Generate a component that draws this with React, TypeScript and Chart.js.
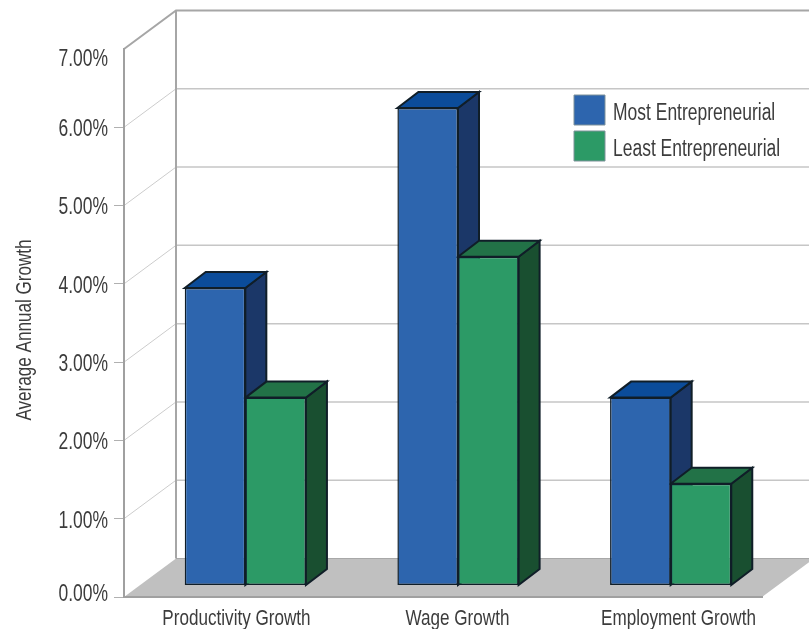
import React, { useEffect, useRef } from "react";
import { Chart, registerables } from "chart.js";

Chart.register(...registerables);

const categories = ["Productivity Growth", "Wage Growth", "Employment Growth"];
const mostEntrepreneurial = [3.8, 6.1, 2.4];
const leastEntrepreneurial = [2.4, 4.2, 1.3];
const seriesNames = ["Most Entrepreneurial", "Least Entrepreneurial"];
const axisTitle = "Average Annual Growth";
const yMax = 7;

const FONT = "'Liberation Sans', sans-serif";
const TEXT = "#3c3c3c";
const TEXT_NARROW = 0.76; // no condensed face is installed, so text is narrowed when painted
const faces = [
  { front: "#2d65ae", top: "#0b4c9a", side: "#1b3768" },
  { front: "#2c9a66", top: "#227247", side: "#194f30" },
];
const EDGE = "#101e28";

// 3D projection
const WALL_DX = 52;
const WALL_DY = -38.5;
const BAR_SHIFT_X = 15;
const BAR_SHIFT_Y = -11.5;
const BAR_DX = 21;
const BAR_DY = -16;

const textNudge = (text: string) => {
  if (seriesNames.includes(text)) return [-3.5, 3.5];
  if (text === axisTitle) return [-7, 1];
  if (text.endsWith("%")) return [0, 2.5];
  return [0, 0];
};

const narrowText = (ctx: any) => {
  const original = ctx.fillText.bind(ctx);
  ctx.fillText = (text: string, x: number, y: number, maxWidth?: number) => {
    const [nx, ny] = textNudge(text);
    ctx.save();
    ctx.translate(x + nx, y + ny);
    ctx.scale(TEXT_NARROW, 1);
    if (maxWidth === undefined) original(text, 0, 0);
    else original(text, 0, 0, maxWidth / TEXT_NARROW);
    ctx.restore();
  };
};

const poly = (ctx: CanvasRenderingContext2D, pts: number[][], fill: string | null, stroke: string | null, lw = 1) => {
  ctx.beginPath();
  pts.forEach((p, i) => (i ? ctx.lineTo(p[0], p[1]) : ctx.moveTo(p[0], p[1])));
  if (fill) {
    ctx.closePath();
    ctx.fillStyle = fill;
    ctx.fill();
  }
  if (stroke) {
    ctx.strokeStyle = stroke;
    ctx.lineWidth = lw;
    ctx.stroke();
  }
};

const box3d = {
  id: "box3d",
  beforeDraw(chart: any) {
    const { ctx, chartArea: a, scales } = chart;
    const y = scales.y;
    const legend = chart.legend;
    legend.left = 568;
    legend.right = 809;
    legend.top = 89;
    legend.bottom = 300;
    ctx.save();
    const y0 = y.getPixelForValue(0);
    const yTop = y.getPixelForValue(yMax);
    poly(ctx, [[a.left, y0], [a.right, y0], [a.right + WALL_DX, y0 + WALL_DY], [a.left + WALL_DX, y0 + WALL_DY]], "#c0c0c0", null);
    for (let v = 1; v < yMax; v++) {
      const p = y.getPixelForValue(v);
      poly(ctx, [[a.left, p], [a.left + WALL_DX, p + WALL_DY]], null, "#cccccc", 1);
      poly(ctx, [[a.left + WALL_DX, p + WALL_DY], [a.right + WALL_DX, p + WALL_DY]], null, "#c6c6c6", 1.5);
    }
    poly(ctx, [[a.left + WALL_DX, y0 + WALL_DY], [a.right + WALL_DX, y0 + WALL_DY]], null, "#a8a8a8", 1);
    poly(ctx, [[a.left, yTop], [a.left + WALL_DX, yTop + WALL_DY], [a.right + WALL_DX, yTop + WALL_DY]], null, "#a6a6a6", 2);
    poly(ctx, [[a.left + WALL_DX, yTop + WALL_DY], [a.left + WALL_DX, y0 + WALL_DY]], null, "#a6a6a6", 2);
    ctx.restore();
  },
  beforeDatasetsDraw(chart: any) {
    const { ctx } = chart;
    ctx.save();
    ctx.translate(BAR_SHIFT_X, BAR_SHIFT_Y);
    categories.forEach((_, i) => {
      [0, 1].forEach((d) => {
        const el = chart.getDatasetMeta(d).data[i];
        const l = el.x - el.width / 2;
        const r = el.x + el.width / 2;
        poly(ctx, [[r, el.y], [r + BAR_DX, el.y + BAR_DY], [r + BAR_DX, el.base + BAR_DY], [r, el.base]], faces[d].side, EDGE, 2);
        poly(ctx, [[l, el.y], [l + BAR_DX, el.y + BAR_DY], [r + BAR_DX, el.y + BAR_DY], [r, el.y]], faces[d].top, EDGE, 2);
      });
    });
  },
  afterDatasetsDraw(chart: any) {
    chart.ctx.restore();
  },
};

export default function App() {
  const ref = useRef<HTMLCanvasElement>(null);
  useEffect(() => {
    document.body.style.margin = "0";
    narrowText(ref.current!.getContext("2d"));
    const chart = new Chart(ref.current!, {
      type: "bar",
      data: {
        labels: categories,
        datasets: [
          { label: seriesNames[0], data: mostEntrepreneurial, backgroundColor: faces[0].front, borderColor: EDGE, borderWidth: 1.5, borderSkipped: false, clip: false, categoryPercentage: 0.57, barPercentage: 1 },
          { label: seriesNames[1], data: leastEntrepreneurial, backgroundColor: faces[1].front, borderColor: EDGE, borderWidth: 1.5, borderSkipped: false, clip: false, categoryPercentage: 0.57, barPercentage: 1 },
        ] as any,
      },
      plugins: [box3d],
      options: {
        responsive: false,
        animation: false,
        devicePixelRatio: 1,
        events: [],
        layout: { padding: { left: 0, right: 47, top: 49, bottom: 0 } },
        plugins: {
          tooltip: { enabled: false },
          legend: {
            position: "chartArea",
            align: "start",
            labels: {
              boxWidth: 31,
              boxHeight: 30,
              padding: 6,
              color: TEXT,
              font: { family: FONT, size: 23 },
              generateLabels: () =>
                seriesNames.map((text, i) => ({
                  text,
                  fillStyle: faces[i].front,
                  strokeStyle: "#7f929a",
                  lineWidth: 1,
                  fontColor: TEXT,
                  datasetIndex: i,
                })),
            },
          },
        },
        scales: {
          x: { display: false, type: "category", stacked: false },
          y: {
            min: 0,
            max: yMax,
            position: "left",
            afterFit: (s: any) => { s.width = 124; },
            border: { color: "#a0a0a0", width: 2 },
            grid: {
              drawOnChartArea: false,
              tickLength: 10,
              tickColor: (c: any) => (c.tick.value === yMax ? "transparent" : "#b0b0b0"),
            },
            title: { display: true, text: axisTitle, color: TEXT, font: { family: FONT, size: 22.5 }, padding: { top: 10, bottom: 0 } },
            ticks: {
              stepSize: 1,
              padding: 6,
              color: TEXT,
              callback: (v: any) => {
                const s = `${Number(v).toFixed(2)}%`;
                return v === yMax ? ["", s] : v === 0 ? [s, ""] : s;
              },
              font: (c: any) => ({
                family: FONT,
                size: 23,
                lineHeight: c.tick && c.tick.value === yMax ? "16px" : c.tick && c.tick.value === 0 ? "10px" : "23px",
              }),
            },
          },
          xl: {
            type: "linear",
            axis: "x",
            position: "bottom",
            offset: false,
            min: -0.509,
            max: 2.378,
            afterBuildTicks: (s: any) => { s.ticks = categories.map((_, value) => ({ value })); },
            afterFit: (s: any) => { s.height = 32; },
            border: { color: "#a0a0a0", width: 2 },
            grid: { offset: false, drawOnChartArea: false, drawTicks: false },
            ticks: {
              autoSkip: false,
              maxRotation: 0,
              padding: 8,
              color: TEXT,
              font: { family: FONT, size: 22.5 },
              callback: (v: any) => categories[v],
            },
          },
        } as any,
      } as any,
    });
    return () => chart.destroy();
  }, []);
  return <canvas ref={ref} width={809} height={629} style={{ display: "block" }} />;
}
